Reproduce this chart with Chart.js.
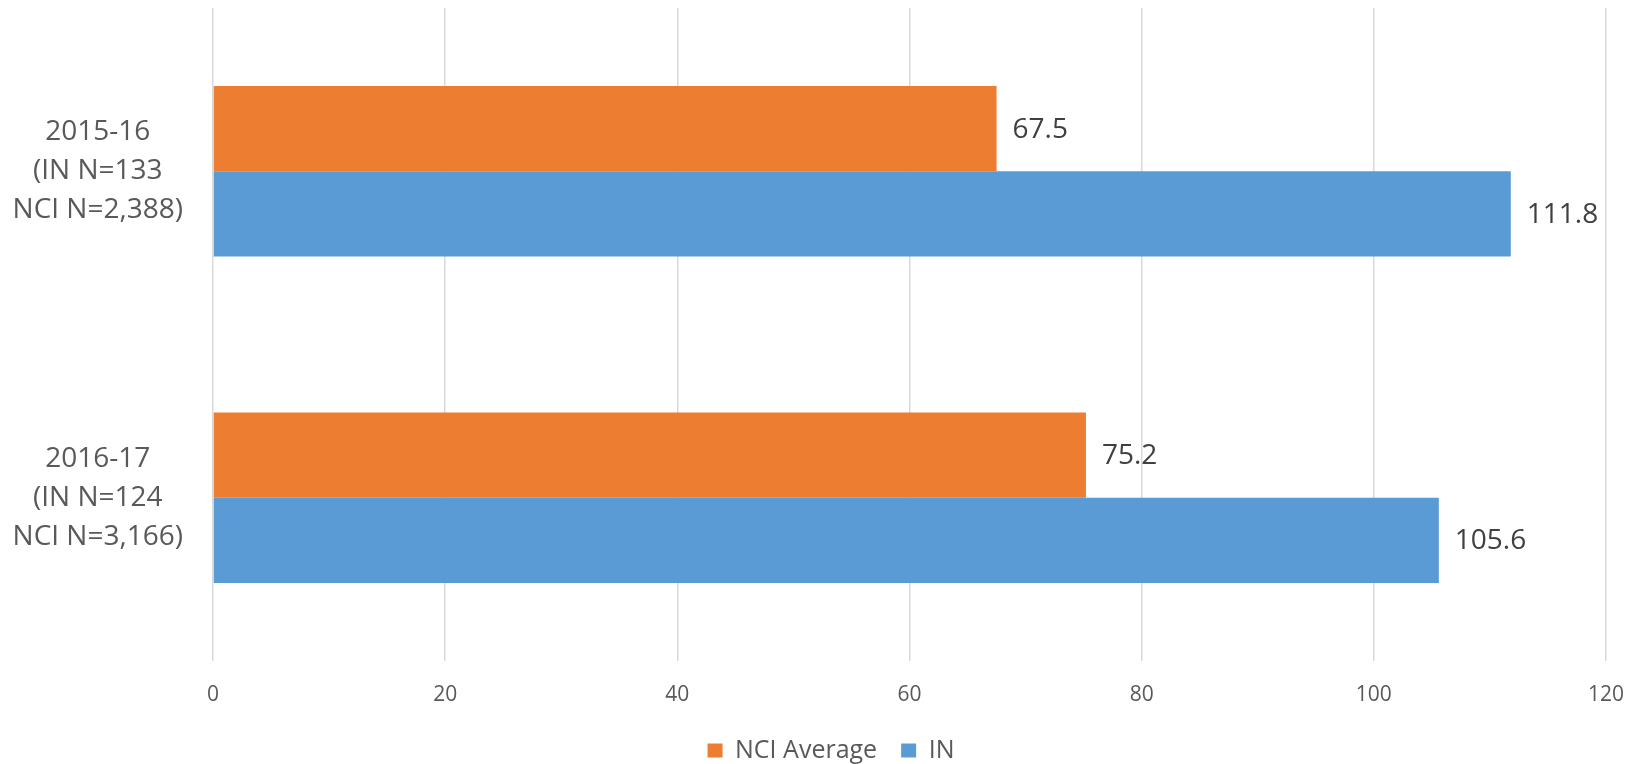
<!DOCTYPE html>
<html>
<head>
<meta charset="utf-8">
<script src="https://cdn.jsdelivr.net/npm/chart.js@4/dist/chart.umd.min.js"></script>
<style>
  html, body { margin: 0; padding: 0; background: #ffffff; }
  #wrap { width: 1638px; height: 764px; position: relative; }
</style>
</head>
<body>
<div id="wrap"><canvas id="c" width="1638" height="764"></canvas></div>
<script>
const categories = [
  ['2015-16', '(IN N=133', 'NCI N=2,388)'],
  ['2016-17', '(IN N=124', 'NCI N=3,166)']
];
const seriesNames = ['NCI Average', 'IN'];
const nciAverage = [67.5, 75.2];
const inValues = [111.8, 105.6];
const xTicks = [0, 20, 40, 60, 80, 100, 120];

const FONT = "'Open Sans', 'Noto Sans', sans-serif";

const valueLabels = {
  id: 'valueLabels',
  afterDatasetsDraw(chart) {
    const ctx = chart.ctx;
    ctx.save();
    ctx.font = '28px ' + FONT;
    ctx.fillStyle = '#404040';
    ctx.textAlign = 'left';
    ctx.textBaseline = 'middle';
    chart.data.datasets.forEach((ds, di) => {
      const meta = chart.getDatasetMeta(di);
      meta.data.forEach((bar, i) => {
        const v = ds.data[i];
        ctx.fillText(v.toFixed(1), bar.x + 16, bar.y + 1);
      });
    });
    ctx.restore();
  }
};

const legendShift = {
  id: 'legendShift',
  afterLayout(chart) {
    const l = chart.legend;
    if (l) { l.left += 28; l.right += 28; }
  }
};

new Chart(document.getElementById('c'), {
  type: 'bar',
  data: {
    labels: categories,
    datasets: [
      { label: seriesNames[0], data: nciAverage, backgroundColor: '#ED7D31', borderWidth: 0,
        barPercentage: 1.0, categoryPercentage: 0.5216 },
      { label: seriesNames[1], data: inValues, backgroundColor: '#5B9BD5', borderWidth: 0,
        barPercentage: 1.0, categoryPercentage: 0.5216 }
    ]
  },
  options: {
    indexAxis: 'y',
    responsive: false,
    animation: false,
    devicePixelRatio: 1,
    layout: { padding: { left: 0, right: 32, top: 8, bottom: 0 } },
    scales: {
      x: {
        min: 0,
        max: 120,
        afterBuildTicks(scale) { scale.ticks = xTicks.map(v => ({ value: v })); },
        afterFit(scale) { scale.height = 53; scale.paddingLeft = 0; scale.paddingRight = 0; },
        grid: { color: '#d9d9d9', lineWidth: 1.5, drawTicks: false },
        border: { display: false },
        ticks: { font: { family: FONT, size: 21 }, color: '#595959', padding: 21 }
      },
      y: {
        afterFit(scale) { scale.width = 213; scale.paddingTop = 0; scale.paddingBottom = 0; },
        grid: { display: false, drawTicks: false },
        border: { display: false },
        ticks: {
          font: { family: FONT, size: 28, lineHeight: 1.4 },
          color: '#595959',
          crossAlign: 'center',
          padding: 30
        }
      }
    },
    plugins: {
      legend: {
        position: 'bottom',
        maxHeight: 50,
        labels: {
          font: { family: FONT, size: 25 },
          color: '#595959',
          boxWidth: 15,
          boxHeight: 14,
          padding: 24
        }
      },
      tooltip: { enabled: false }
    }
  },
  plugins: [valueLabels, legendShift]
});
</script>
</body>
</html>
